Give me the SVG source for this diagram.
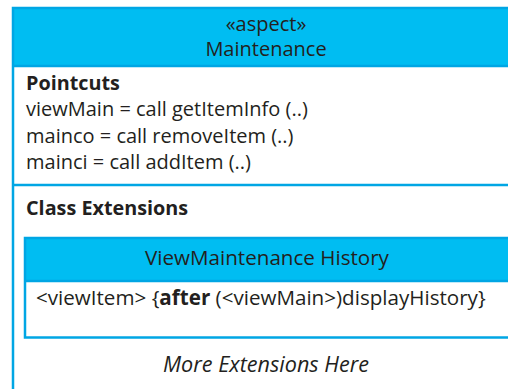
<svg xmlns="http://www.w3.org/2000/svg" width="508" height="389" viewBox="0 0 508 389">
<style>
.t{font-family:"Open Sans","Noto Sans","Liberation Sans",sans-serif;font-size:20.6px;fill:#231f20}
.h{font-size:20px}
.p{font-size:20px}
.b{font-weight:bold;font-size:19.8px}
.i{font-style:italic;font-size:21.6px}
.m{text-anchor:middle}
.fill{fill:#00bdf2}
.ln{stroke:#00a6e4;stroke-width:2.5;fill:none}
</style>
<rect width="508" height="389" fill="#ffffff"/>
<g id="aspect">
<rect class="fill" x="13" y="8" width="510" height="58"/>
<rect class="ln" x="13" y="8" width="510" height="400"/>
<line class="ln" x1="13" y1="66" x2="508" y2="66"/>
<text class="t h m" x="266" y="31">«aspect»</text>
<text class="t h m" x="266" y="56">Maintenance</text>
</g>
<g id="pointcuts">
<text class="t b" x="26" y="90">Pointcuts</text>
<text class="t p" x="26" y="116">viewMain = call getItemInfo (..)</text>
<text class="t p" x="26" y="142.5">mainco = call removeItem (..)</text>
<text class="t p" x="26" y="169">mainci = call addItem (..)</text>
<line class="ln" x1="13" y1="185" x2="508" y2="185"/>
</g>
<g id="extensions">
<text class="t b" x="26" y="215">Class Extensions</text>
</g>
<g id="viewMaintenanceHistory">
<rect class="fill" x="25" y="238" width="500" height="43"/>
<rect class="ln" x="25" y="238" width="500" height="99.5"/>
<line class="ln" x1="25" y1="281" x2="508" y2="281" stroke-width="1.5"/>
<text class="t m" x="267" y="265">ViewMaintenance History</text>
<text class="t" x="36" y="305">&lt;viewItem&gt; {<tspan font-weight="bold">after</tspan> (&lt;viewMain&gt;)displayHistory}</text>
</g>
<g id="more">
<text class="t i m" x="266" y="372">More Extensions Here</text>
</g>
<g id="connectors"/>
</svg>
